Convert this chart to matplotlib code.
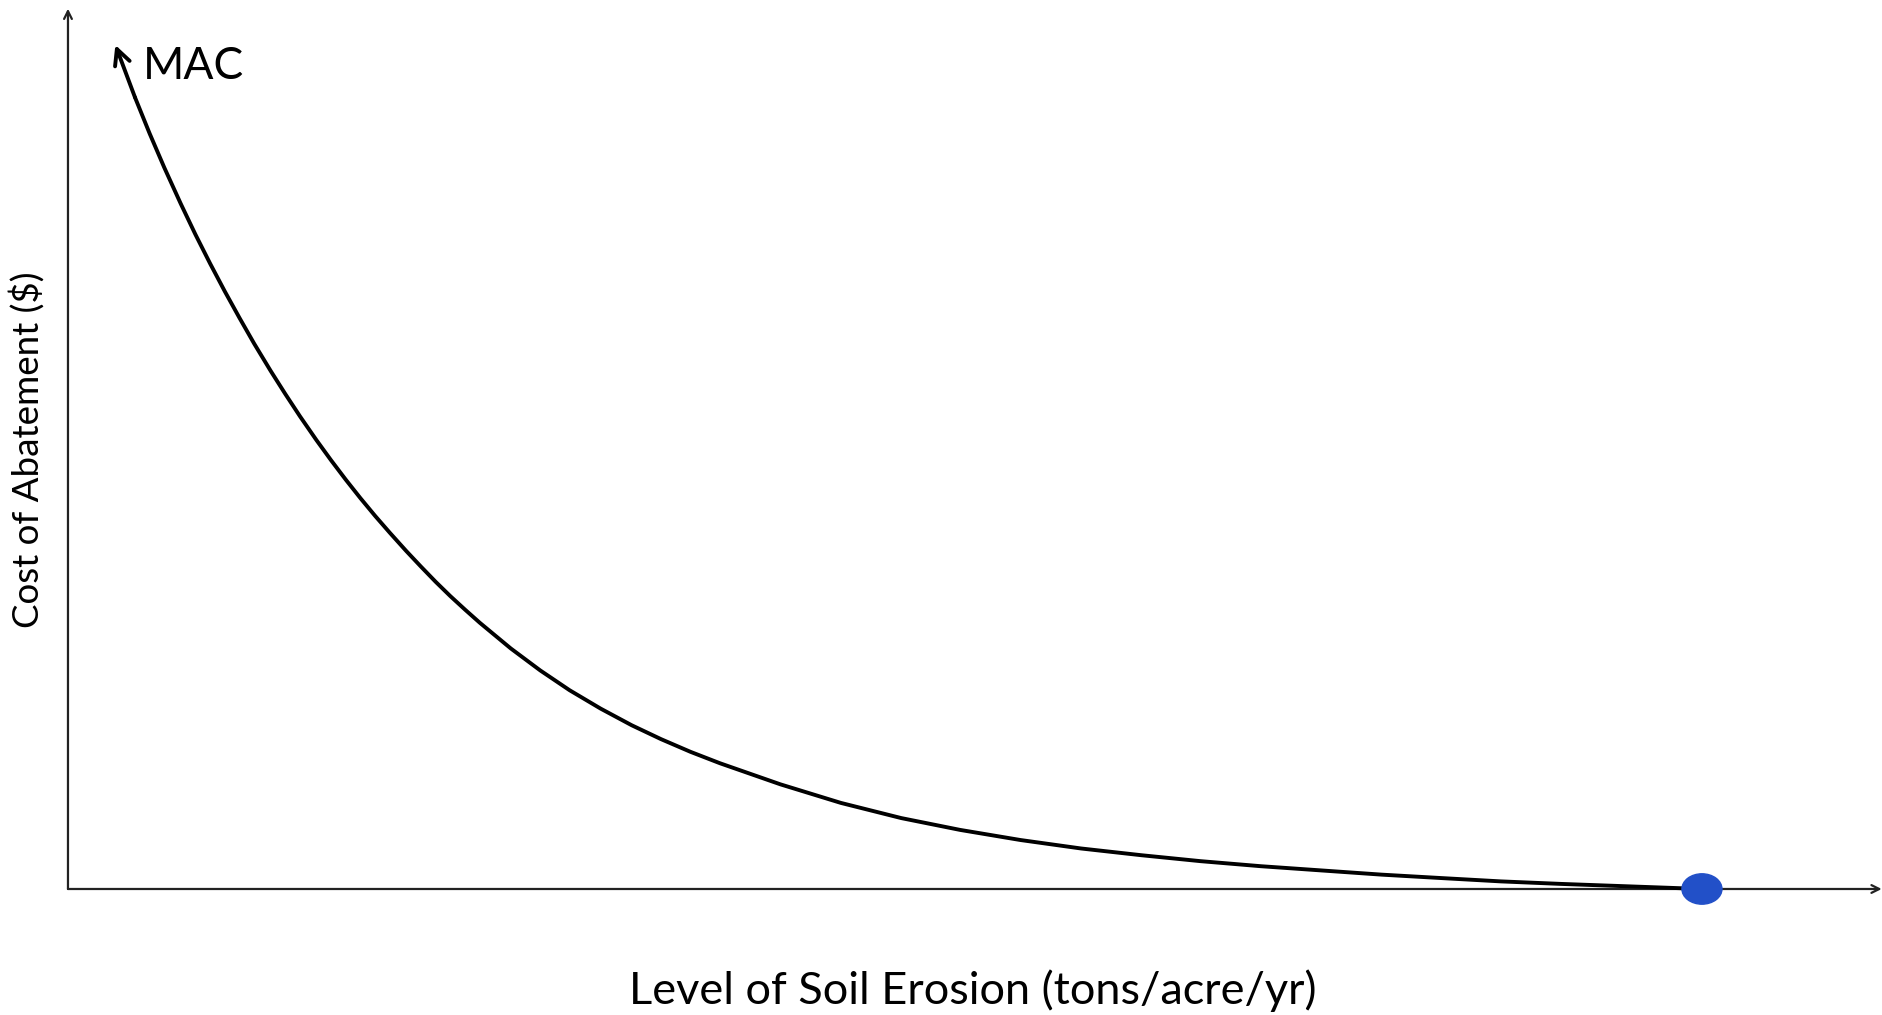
import matplotlib
matplotlib.use('Agg')
import matplotlib.pyplot as plt
from matplotlib.patches import Ellipse

# marginal abatement cost curve (arbitrary units)
erosion = [0.29, 0.41, 0.50, 0.59, 0.69, 0.78, 0.87, 0.96, 1.05, 1.14, 1.24, 1.33, 1.42,
           1.52, 1.61, 1.70, 1.79, 1.88, 1.97, 2.07, 2.16, 2.25, 2.34, 2.43, 2.52, 2.71,
           2.89, 3.07, 3.26, 3.45, 3.63, 3.81, 3.99, 4.36, 4.73, 5.10, 5.46, 5.83, 6.20,
           6.57, 6.93, 7.30, 7.67, 8.04, 8.40, 8.77, 9.14, 9.57, 10.0]
cost = [10.0, 9.38, 8.95, 8.545, 8.12, 7.755, 7.41, 7.08, 6.765, 6.46, 6.14, 5.865, 5.60,
        5.32, 5.08, 4.85, 4.63, 4.42, 4.22, 4.005, 3.82, 3.64, 3.47, 3.31, 3.155, 2.85,
        2.59, 2.355, 2.137, 1.94, 1.775, 1.625, 1.49, 1.24, 1.02, 0.84, 0.70, 0.58, 0.48,
        0.40, 0.33, 0.27, 0.22, 0.17, 0.13, 0.09, 0.06, 0.03, 0.0]

dot_x = [10.0] #where MAC hits zero
dot_y = [0.0]

curve_label = 'MAC'
x_label = 'Level of Soil Erosion (tons/acre/yr)'
y_label = 'Cost of Abatement ($)'

plt.rcParams['font.family'] = ['Lato', 'DejaVu Sans']

fig = plt.figure(figsize=(18.83, 10.15), dpi=100)
ax = fig.add_axes([0, 0, 1, 1])
ax.set_xlim(-0.416, 11.108)
ax.set_ylim(-1.493, 10.533)
ax.axis('off')

# axes drawn as arrows
axis_style = dict(arrowstyle='->', lw=1.6, color='#222222', mutation_scale=14, shrinkA=0, shrinkB=0)
ax.annotate('', xy=(11.1, 0), xytext=(0, 0), arrowprops=axis_style)
ax.annotate('', xy=(0, 10.43), xytext=(0, 0), arrowprops=axis_style)

# the curve, with arrow at the top end
ax.plot(erosion[1:], cost[1:], color='black', lw=2.8, solid_capstyle='round',
        solid_joinstyle='round', zorder=3)
ax.annotate('', xy=(erosion[0], cost[0]), xytext=(erosion[1], cost[1]),
            arrowprops=dict(arrowstyle='->', lw=2.8, color='black', mutation_scale=28,
                            shrinkA=0, shrinkB=0), zorder=3)
ax.text(erosion[0] + 0.17, cost[0] - 0.26, curve_label, fontsize=32, va='center', ha='left')

for dx, dy in zip(dot_x, dot_y):
    ax.add_patch(Ellipse((dx, dy), width=0.245, height=0.36, color='#2250c8', zorder=4))

fig.text(973 / 1883, 1 - 991 / 1015, x_label, fontsize=32.5, ha='center', va='center')
fig.text(27 / 1883, 1 - 450 / 1015, y_label, fontsize=26.5, ha='center', va='center', rotation=90)

fig.savefig('out.png', dpi=100)
